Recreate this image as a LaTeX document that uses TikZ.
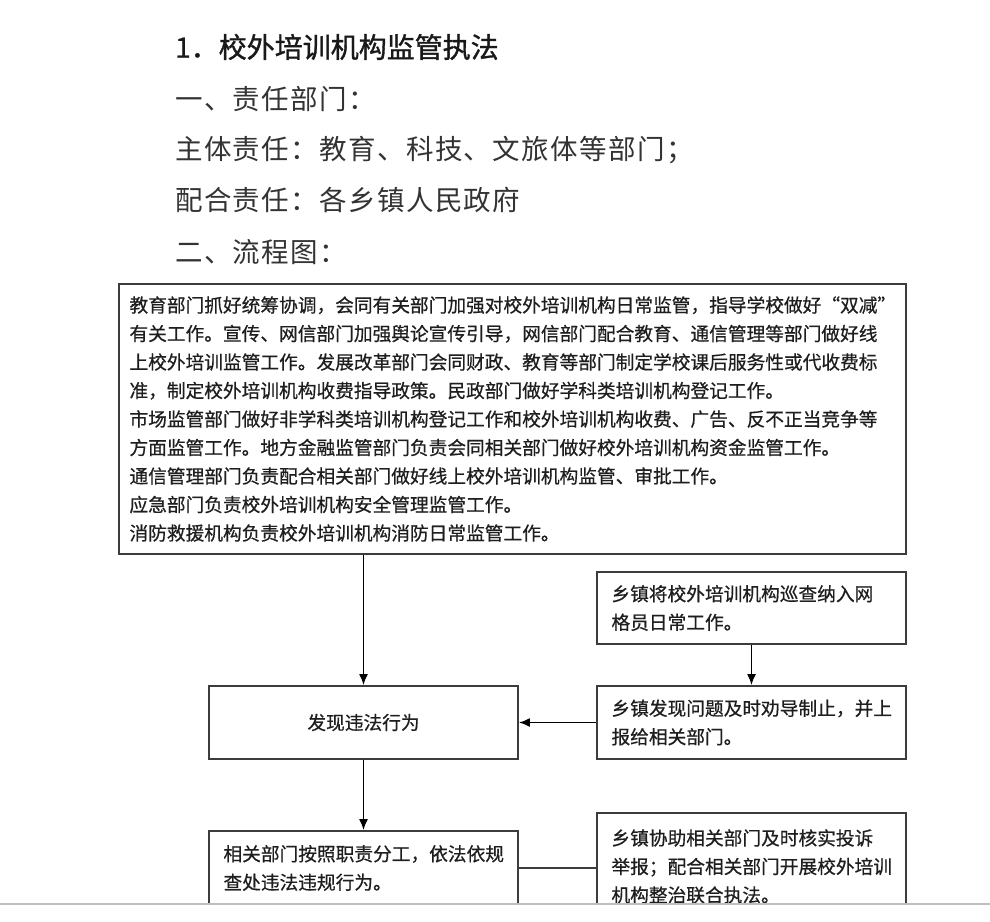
\documentclass[tikz,border=0pt]{standalone}
\usepackage{fontspec}
\newfontfamily\cjk[FakeBold=0.6]{Noto Sans CJK SC}
\newfontfamily\cjkhd[LetterSpace=5]{Noto Sans CJK SC}
\newfontfamily\cjkttl[FakeBold=1.2]{Noto Sans CJK SC}
\usetikzlibrary{arrows.meta}
\definecolor{flowline}{HTML}{3C3C3C}
\definecolor{flowtext}{HTML}{1E1E1E}
\definecolor{pagerule}{HTML}{BEBEBE}

\begin{document}
\begin{tikzpicture}[x=1pt, y=-1pt,
        every node/.style={font=\cjk\fontsize{18.7pt}{28.5pt}\selectfont, text=flowtext},
        hd/.style={anchor=west, inner sep=0pt, text=black!80,
          font=\cjkhd\fontsize{27.5pt}{34pt}\selectfont},
        ttl/.style={anchor=west, inner sep=0pt, text=black!90,
          font=\cjkttl\fontsize{28pt}{34pt}\selectfont},
        bx/.style={
          draw=flowline, line width=1.7pt, inner sep=0pt,
          minimum width=309pt, minimum height=73pt,
          text width=280pt, align=left,
        },
        arr/.style={-{Latex[length=11pt,width=9pt]}, draw=black, line width=1.9pt},
        lnk/.style={draw=flowline, line width=1.7pt},
      ]
      \useasboundingbox (0,0) rectangle (990,921);
      % headings
      \node[ttl] (title) at (175,47)  {1．校外培训机构监管执法};
      \node[hd]  (dept)  at (175,99)  {一、责任部门：};
      \node[hd]  (lead)  at (175,150) {主体责任：教育、科技、文旅体等部门；};
      \node[hd]  (coop)  at (175,200) {配合责任：各乡镇人民政府};
      \node[hd]  (flow)  at (175,252) {二、流程图：};
      \begin{scope}
        \clip (0,0) rectangle (990,904);
        \node[bx, minimum width=787pt, minimum height=270pt, text width=766pt] (duty) at (512.5,419) {%
          教育部门抓好统筹协调，会同有关部门加强对校外培训机构日常监管，指导学校做好“双减”\\
          有关工作。宣传、网信部门加强舆论宣传引导，网信部门配合教育、通信管理等部门做好线\\
          上校外培训监管工作。发展改革部门会同财政、教育等部门制定学校课后服务性或代收费标\\
          准，制定校外培训机构收费指导政策。民政部门做好学科类培训机构登记工作。\\
          市场监管部门做好非学科类培训机构登记工作和校外培训机构收费、广告、反不正当竞争等\\
          方面监管工作。地方金融监管部门负责会同相关部门做好校外培训机构资金监管工作。\\
          通信管理部门负责配合相关部门做好线上校外培训机构监管、审批工作。\\
          应急部门负责校外培训机构安全管理监管工作。\\
          消防救援机构负责校外培训机构消防日常监管工作。};
        \node[bx, minimum height=72pt] (patrol) at (751.5,608) {%
          乡镇将校外培训机构巡查纳入网\\格员日常工作。};
        \node[bx] (report) at (751.5,722.5) {%
          乡镇发现问题及时劝导制止，并上\\报给相关部门。};
        \node[bx, align=center] (find) at (363.5,722.5) {发现违法行为};
        \node[bx, minimum height=74pt] (handle) at (363.5,868) {%
          相关部门按照职责分工，依法依规\\查处违法违规行为。};
        \node[bx, minimum height=107pt] (assist) at (751.5,866.5) {%
          乡镇协助相关部门及时核实投诉\\举报；配合相关部门开展校外培训\\机构整治联合执法。};
        % connectors
        \draw[arr] (duty.south -| find.north) -- (find.north);
        \draw[arr] (patrol) -- (report);
        \draw[arr] (report) -- (find);
        \draw[arr] (find) -- (handle);
        \draw[lnk] (handle.east) -- (handle.east -| assist.west);
      \end{scope}
      \draw[pagerule, line width=1.2pt] (0,904) -- (990,904);
    \end{tikzpicture}
\end{document}
